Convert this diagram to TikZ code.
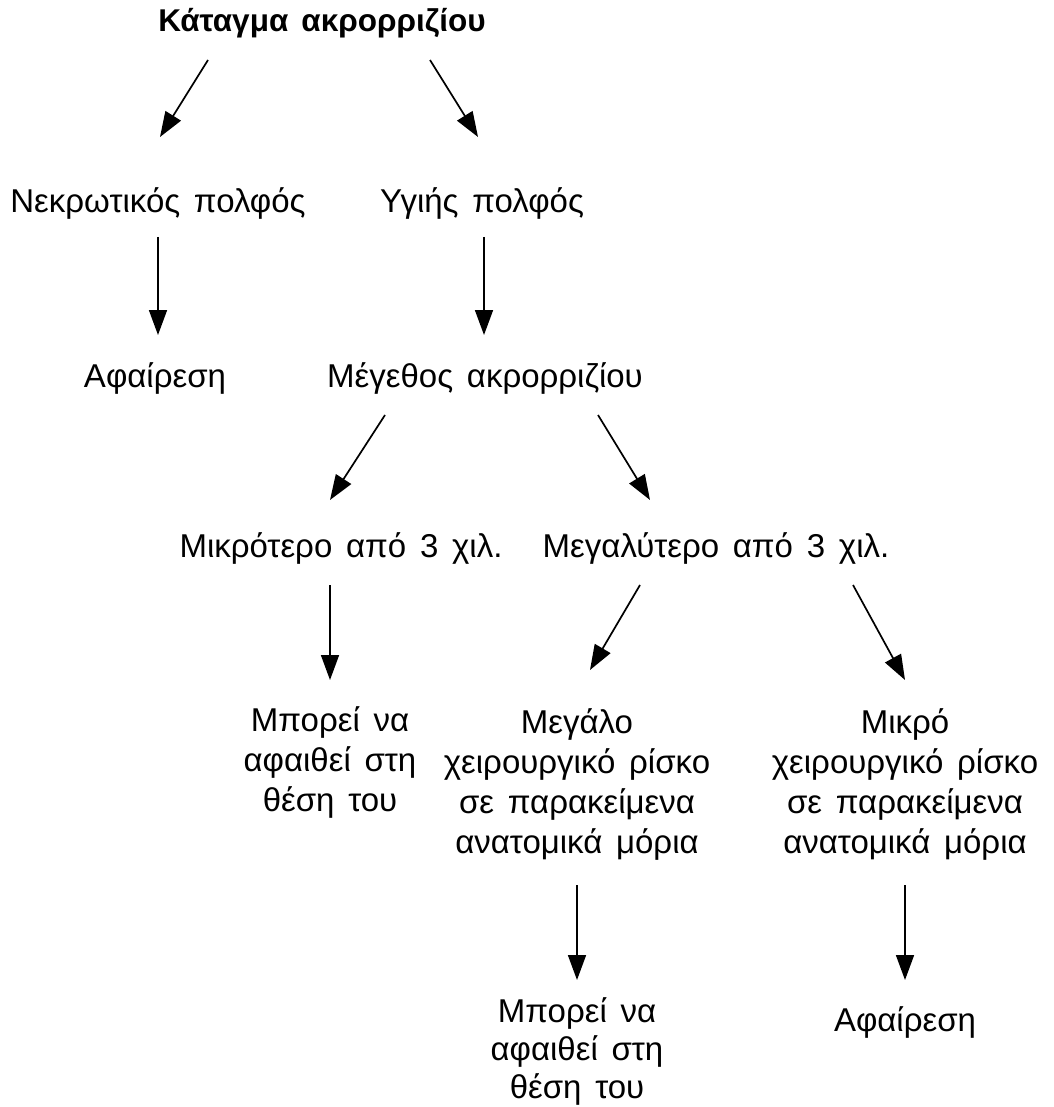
\documentclass[tikz,border=0pt]{standalone}
\usepackage{fontspec}
\setmainfont{Liberation Sans}[WordSpace=1.5]
\usetikzlibrary{arrows.meta}
\begin{document}
\begin{tikzpicture}[x=1pt,y=-1pt,
  lbl/.style={anchor=base,inner sep=0pt,align=center,font=\fontsize{33}{40}\selectfont},
  arr/.style={line width=1.7pt,-{Triangle[length=25pt,width=18pt]}}]
\useasboundingbox[fill=white] (0,0) rectangle (1053,1107);
\node[lbl,font=\fontsize{31.5}{40}\selectfont\bfseries] (title) at (322,32) {Κάταγμα ακρορριζίου};
\node[lbl] (nekr) at (158,213) {Νεκρωτικός πολφός};
\node[lbl] (ygi) at (482,213) {Υγιής πολφός};
\node[lbl] (afair1) at (155,387) {Αφαίρεση};
\node[lbl] (meg) at (485,387) {Μέγεθος ακρορριζίου};
\node[lbl] (mikr) at (341,557) {Μικρότερο από 3 χιλ.};
\node[lbl] (megal) at (716,557) {Μεγαλύτερο από 3 χιλ.};
\node[lbl] (mp1) at (330,811) {Μπορεί να\\αφαιθεί στη\\θέση του};
\node[lbl] (megalo) at (577,853) {Μεγάλο\\χειρουργικό ρίσκο\\σε παρακείμενα\\ανατομικά μόρια};
\node[lbl] (mikro) at (905,853) {Μικρό\\χειρουργικό ρίσκο\\σε παρακείμενα\\ανατομικά μόρια};
\node[lbl,font=\fontsize{33}{38}\selectfont] (mp2) at (577,1098) {Μπορεί να\\αφαιθεί στη\\θέση του};
\node[lbl] (afair2) at (905,1031) {Αφαίρεση};
\draw[arr] ([shift={(-114,28)}]title.base) -- ([shift={(2,-76)}]nekr.base);
\draw[arr] ([shift={(108,28)}]title.base) -- ([shift={(-4,-76)}]ygi.base);
\draw[arr] ([shift={(0,24)}]nekr.base) -- ([shift={(3,-52)}]afair1.base);
\draw[arr] ([shift={(2,24)}]ygi.base) -- ([shift={(-1,-52)}]meg.base);
\draw[arr] ([shift={(-100,28)}]meg.base) -- ([shift={(-11,-57)}]mikr.base);
\draw[arr] ([shift={(113,28)}]meg.base) -- ([shift={(-66,-57)}]megal.base);
\draw[arr] ([shift={(-11,28)}]mikr.base) -- ([shift={(0,-131)}]mp1.base);
\draw[arr] ([shift={(-76,28)}]megal.base) -- ([shift={(13,-183)}]megalo.base);
\draw[arr] ([shift={(137,28)}]megal.base) -- ([shift={(0,-173)}]mikro.base);
\draw[arr] ([shift={(0,32)}]megalo.base) -- ([shift={(0,-118)}]mp2.base);
\draw[arr] ([shift={(0,32)}]mikro.base) -- ([shift={(0,-51)}]afair2.base);
\end{tikzpicture}
\end{document}
